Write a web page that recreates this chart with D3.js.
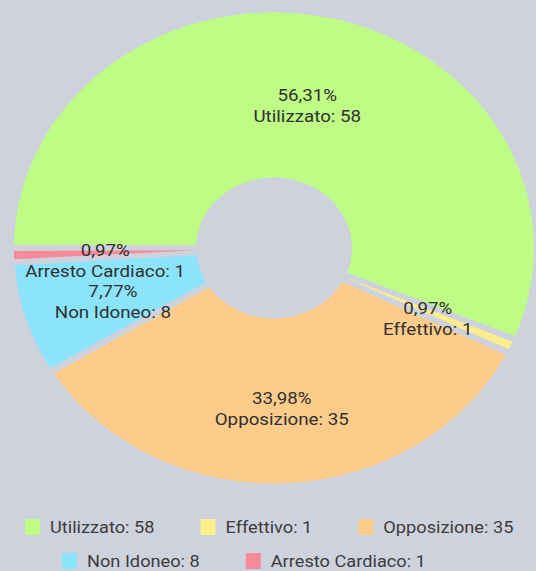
<!DOCTYPE html>
<html>
<head>
<meta charset="utf-8">
<script src="https://cdn.jsdelivr.net/npm/d3@7"></script>
<style>
  html, body { margin: 0; padding: 0; background: #ced2dc; }
  svg { display: block; }
  text { font-family: Roboto, "Noto Sans", sans-serif; }
</style>
</head>
<body>
<svg id="chart" width="536" height="571"></svg>
<script>
// ---- data ----
const categories = ["Utilizzato", "Effettivo", "Opposizione", "Non Idoneo", "Arresto Cardiaco"];
const values = [58, 1, 35, 8, 1];
const colors = ["#befc85", "#fcee8c", "#fdcc8a", "#8ce4fc", "#f58a9b"];

// ---- layout ----
const W = 536, H = 571;
const sx = 1.104;             // horizontal stretch of the picture
const cx = 274 / sx, cy = 248;
const outerR = 235.5, innerR = 70.5;
const total = d3.sum(values);

const svg = d3.select("#chart");
svg.append("rect").attr("width", W).attr("height", H).attr("fill", "#ced2dc");

const root = svg.append("g").attr("transform", `scale(${sx},1)`);

const data = categories.map((c, i) => ({ name: c, value: values[i], color: colors[i] }));

const pie = d3.pie()
  .value(d => d.value)
  .sort(null)
  .startAngle(-Math.PI / 2)
  .endAngle(Math.PI * 1.5);

const arc = d3.arc()
  .innerRadius(innerR)
  .outerRadius(outerR)
  .padRadius(100)
  .padAngle(0.06);

const labelArc = d3.arc().innerRadius(innerR).outerRadius(outerR);

const arcs = pie(data);
const g = root.append("g").attr("transform", `translate(${cx},${cy})`);

g.selectAll("path.slice")
  .data(arcs)
  .join("path")
  .attr("class", "slice")
  .attr("d", arc)
  .attr("fill", d => d.data.color);

const fmt = v => (v / total * 100).toFixed(2).replace(".", ",") + "%";

const labels = g.selectAll("g.lbl")
  .data(arcs)
  .join("g")
  .attr("class", "lbl")
  .attr("transform", d => { const c = labelArc.centroid(d); return `translate(${c[0]},${c[1]})`; });

labels.append("text")
  .attr("text-anchor", "middle")
  .attr("y", 3)
  .attr("font-size", 17)
  .attr("fill", "#303030")
  .text(d => fmt(d.data.value));

labels.append("text")
  .attr("text-anchor", "middle")
  .attr("y", 24)
  .attr("font-size", 17)
  .attr("fill", "#303030")
  .text(d => `${d.data.name}: ${d.data.value}`);

// ---- legend ----
const rows = [[0, 1, 2], [3, 4]];
const rowStart = [25 / sx, 62 / sx];
const rowY = [527, 561];
const boxW = 15 / sx, boxH = 16, textOff = 25 / sx, itemGap = 46 / sx;

const legend = root.append("g");
rows.forEach((row, r) => {
  let x = rowStart[r];
  row.forEach(i => {
    const d = data[i];
    legend.append("rect")
      .attr("x", x).attr("y", rowY[r] - boxH / 2)
      .attr("width", boxW).attr("height", boxH)
      .attr("fill", d.color);
    const t = legend.append("text")
      .attr("x", x + textOff)
      .attr("y", rowY[r] + 6)
      .attr("font-size", 16.5)
      .attr("fill", "#3c3c3c")
      .text(`${d.name}: ${d.value}`);
    x += textOff + t.node().getComputedTextLength() + itemGap;
  });
});
</script>
</body>
</html>
